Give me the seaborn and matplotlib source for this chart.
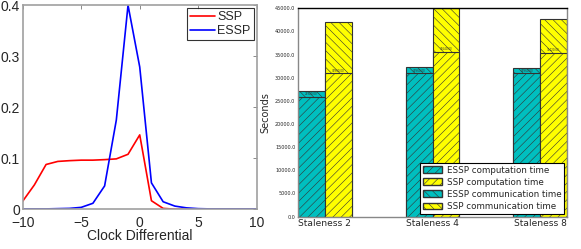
import numpy as np
import pandas as pd
import matplotlib
matplotlib.use("Agg")
import matplotlib.pyplot as plt
from matplotlib.patches import Patch
from matplotlib.ticker import FormatStrFormatter, MultipleLocator
import seaborn as sns

# ---------------------------------------------------------------
# Data
# ---------------------------------------------------------------
clock_diff = list(range(-10, 11))
ssp_prob = [0.016, 0.048, 0.088, 0.094, 0.0955, 0.0965, 0.0965, 0.0975,
            0.099, 0.108, 0.146, 0.017, 0.002, 0.0005, 0.0, 0.0,
            0.0, 0.0, 0.0, 0.0, 0.0]
essp_prob = [0.001, 0.001, 0.001, 0.0015, 0.002, 0.004, 0.012, 0.046,
             0.175, 0.400, 0.279, 0.052, 0.015, 0.0065, 0.003, 0.0015,
             0.001, 0.001, 0.001, 0.001, 0.001]

staleness = ["Staleness 2", "Staleness 4", "Staleness 8"]
essp_comp = [25920.0, 30960.0, 30960.0]
essp_total = [27220.0, 32250.0, 32040.0]
ssp_comp = [30960.0, 35640.0, 35420.0]
ssp_total = [41980.0, 44950.0, 42700.0]

TEAL = "#00BFBF"
YELLOW = "#FFFF00"

sns.set_style("white")
plt.rcParams["hatch.linewidth"] = 0.4
plt.rcParams["hatch.color"] = (0, 0, 0, 0.18)

clock_df = pd.DataFrame({
    "clock": clock_diff * 2,
    "prob": ssp_prob + essp_prob,
    "protocol": ["SSP"] * len(clock_diff) + ["ESSP"] * len(clock_diff),
})

time_df = pd.DataFrame({
    "staleness": staleness * 2,
    "protocol": ["ESSP"] * 3 + ["SSP"] * 3,
    "comp": essp_comp + ssp_comp,
    "total": essp_total + ssp_total,
})

fig = plt.figure(figsize=(5.81, 2.49), dpi=100)

# ---------------- left: clock differential ----------------
ax1 = fig.add_axes([0.039, 0.159, 0.403, 0.820])
sns.lineplot(data=clock_df, x="clock", y="prob", hue="protocol",
             hue_order=["SSP", "ESSP"],
             palette={"SSP": "red", "ESSP": "blue"},
             linewidth=1.2, ax=ax1)
ax1.set_xlim(-10, 10)
ax1.set_ylim(0, 0.4)
ax1.set_xticks([-10, -5, 0, 5, 10])
ax1.set_yticks([0, 0.1, 0.2, 0.3, 0.4])
ax1.set_yticklabels(["0", "0.1", "0.2", "0.3", "0.4"])
ax1.tick_params(labelsize=10, direction="in", length=3, width=0.6,
                color="#777777", pad=2, top=True, right=True)
ax1.tick_params(axis="x", pad=5)
for lab in ax1.get_xticklabels() + ax1.get_yticklabels():
    lab.set_family(["Liberation Sans", "DejaVu Sans"])
ax1.set_xlabel("Clock Differential", fontsize=10,
               family=["Liberation Sans", "DejaVu Sans"], labelpad=-1)
ax1.set_ylabel("")
for sp in ax1.spines.values():
    sp.set_color("#a0a0a0")
    sp.set_linewidth(1.2)
leg1 = ax1.legend(title=None, loc="upper right", fontsize=9,
                  frameon=True, fancybox=False, edgecolor="black",
                  handlelength=2.0, handletextpad=0.2, borderpad=0.25,
                  labelspacing=0.15, borderaxespad=0.25,
                  prop={"family": ["Liberation Sans", "DejaVu Sans"], "size": 9})
leg1.get_frame().set_linewidth(0.8)

# ---------------- right: stacked time bars ----------------
ax2 = fig.add_axes([0.513, 0.130, 0.463, 0.837])
palette = {"ESSP": TEAL, "SSP": YELLOW}

# communication on top: draw totals first, computation over them
sns.barplot(data=time_df, x="staleness", y="total", hue="protocol",
            hue_order=["ESSP", "SSP"], palette=palette, width=0.5,
            saturation=1, errorbar=None, edgecolor="#333333",
            linewidth=0.8, legend=False, ax=ax2)
n_top = len(ax2.containers)
for cont in ax2.containers:
    for bar in cont:
        bar.set_hatch("\\\\\\\\")

sns.barplot(data=time_df, x="staleness", y="comp", hue="protocol",
            hue_order=["ESSP", "SSP"], palette=palette, width=0.5,
            saturation=1, errorbar=None, edgecolor="#333333",
            linewidth=0.8, legend=False, ax=ax2)
for cont in ax2.containers[n_top:]:
    for bar in cont:
        bar.set_hatch("////")
    ax2.bar_label(cont, fmt="%.2f", fontsize=2, padding=0.3,
                  color="#333333")

ax2.set_xlim(-0.25, 2.25)
ax2.set_ylim(0, 45000)
ax2.yaxis.set_major_locator(MultipleLocator(5000))
ax2.yaxis.set_major_formatter(FormatStrFormatter("%.1f"))
ax2.tick_params(axis="y", labelsize=3.5, direction="in", length=2,
                width=0.5, pad=2, right=True)
ax2.tick_params(axis="x", labelsize=6.6, length=0, pad=2)
ax2.set_xlabel("")
ax2.set_ylabel("Seconds", fontsize=7, labelpad=3)
for name, sp in ax2.spines.items():
    sp.set_color("black" if name == "top" else "#888888")
    sp.set_linewidth(1.0)

handles = [
    Patch(facecolor=TEAL, edgecolor="#333333", hatch="////", label="ESSP computation time"),
    Patch(facecolor=YELLOW, edgecolor="#333333", hatch="////", label="SSP computation time"),
    Patch(facecolor=TEAL, edgecolor="#333333", hatch="\\\\\\\\", label="ESSP communication time"),
    Patch(facecolor=YELLOW, edgecolor="#333333", hatch="\\\\\\\\", label="SSP communication time"),
]
leg2 = ax2.legend(handles=handles, loc="lower right", fontsize=6.3,
                  frameon=True, fancybox=False, edgecolor="black",
                  handlelength=2.2, handleheight=0.8, handletextpad=0.5,
                  borderpad=0.35, labelspacing=0.35, borderaxespad=0.3)
leg2.get_frame().set_linewidth(0.8)
leg2.get_frame().set_alpha(1)

fig.savefig("out.png", dpi=100)
